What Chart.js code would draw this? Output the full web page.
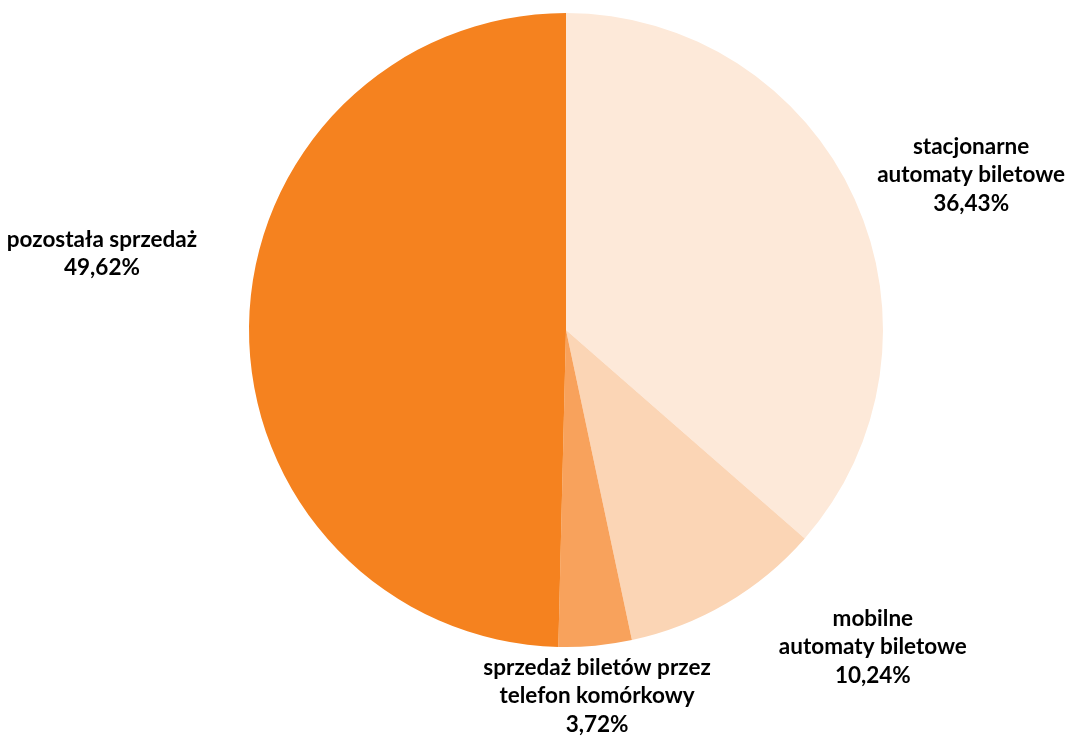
<!DOCTYPE html>
<html>
<head>
<meta charset="utf-8">
<script src="https://cdn.jsdelivr.net/npm/chart.js@4.4.1/dist/chart.umd.min.js"></script>
<style>
  html, body { margin: 0; padding: 0; background: #ffffff; }
  #wrap { width: 1071px; height: 736px; position: relative; }
</style>
</head>
<body>
<div id="wrap"><canvas id="c" width="1071" height="736"></canvas></div>
<script>
const categories = [
  ["stacjonarne", "automaty biletowe"],
  ["mobilne", "automaty biletowe"],
  ["sprzedaż biletów przez", "telefon komórkowy"],
  ["pozostała sprzedaż"]
];
const shares = [36.43, 10.24, 3.72, 49.62];
const percentLabels = ["36,43%", "10,24%", "3,72%", "49,62%"];
const colors = ["#FDE9D9", "#FBD5B5", "#F8A25C", "#F5821F"];

// label anchor relative to pie centre, in units of radius
const labelAnchors = [[1.278, -0.489], [0.968, 1.0], [0.098, 1.155], [-1.464, -0.240]];

const labelPlugin = {
  id: 'outLabels',
  afterDatasetsDraw(chart) {
    const ctx = chart.ctx;
    const meta = chart.getDatasetMeta(0);
    const arc0 = meta.data[0];
    const cx = arc0.x, cy = arc0.y, r = arc0.outerRadius;
    ctx.save();
    ctx.font = 'bold 22.5px Lato, "Open Sans", sans-serif';
    ctx.fillStyle = '#000000';
    ctx.textAlign = 'center';
    ctx.textBaseline = 'middle';
    const lh = 28.5;
    categories.forEach((cat, i) => {
      const lines = cat.concat([percentLabels[i]]);
      const ax = cx + labelAnchors[i][0] * r;
      const ay = cy + labelAnchors[i][1] * r;
      const y0 = ay - (lines.length - 1) * lh / 2;
      lines.forEach((t, k) => ctx.fillText(t, ax, y0 + k * lh));
    });
    ctx.restore();
  }
};

new Chart(document.getElementById('c'), {
  type: 'pie',
  data: {
    labels: categories.map(c => c.join(' ')),
    datasets: [{
      data: shares,
      backgroundColor: colors,
      borderWidth: 0
    }]
  },
  options: {
    responsive: false,
    animation: false,
    layout: { padding: { left: 249, right: 188, top: 13, bottom: 89 } },
    plugins: { legend: { display: false }, tooltip: { enabled: false } }
  },
  plugins: [labelPlugin]
});
</script>
</body>
</html>
